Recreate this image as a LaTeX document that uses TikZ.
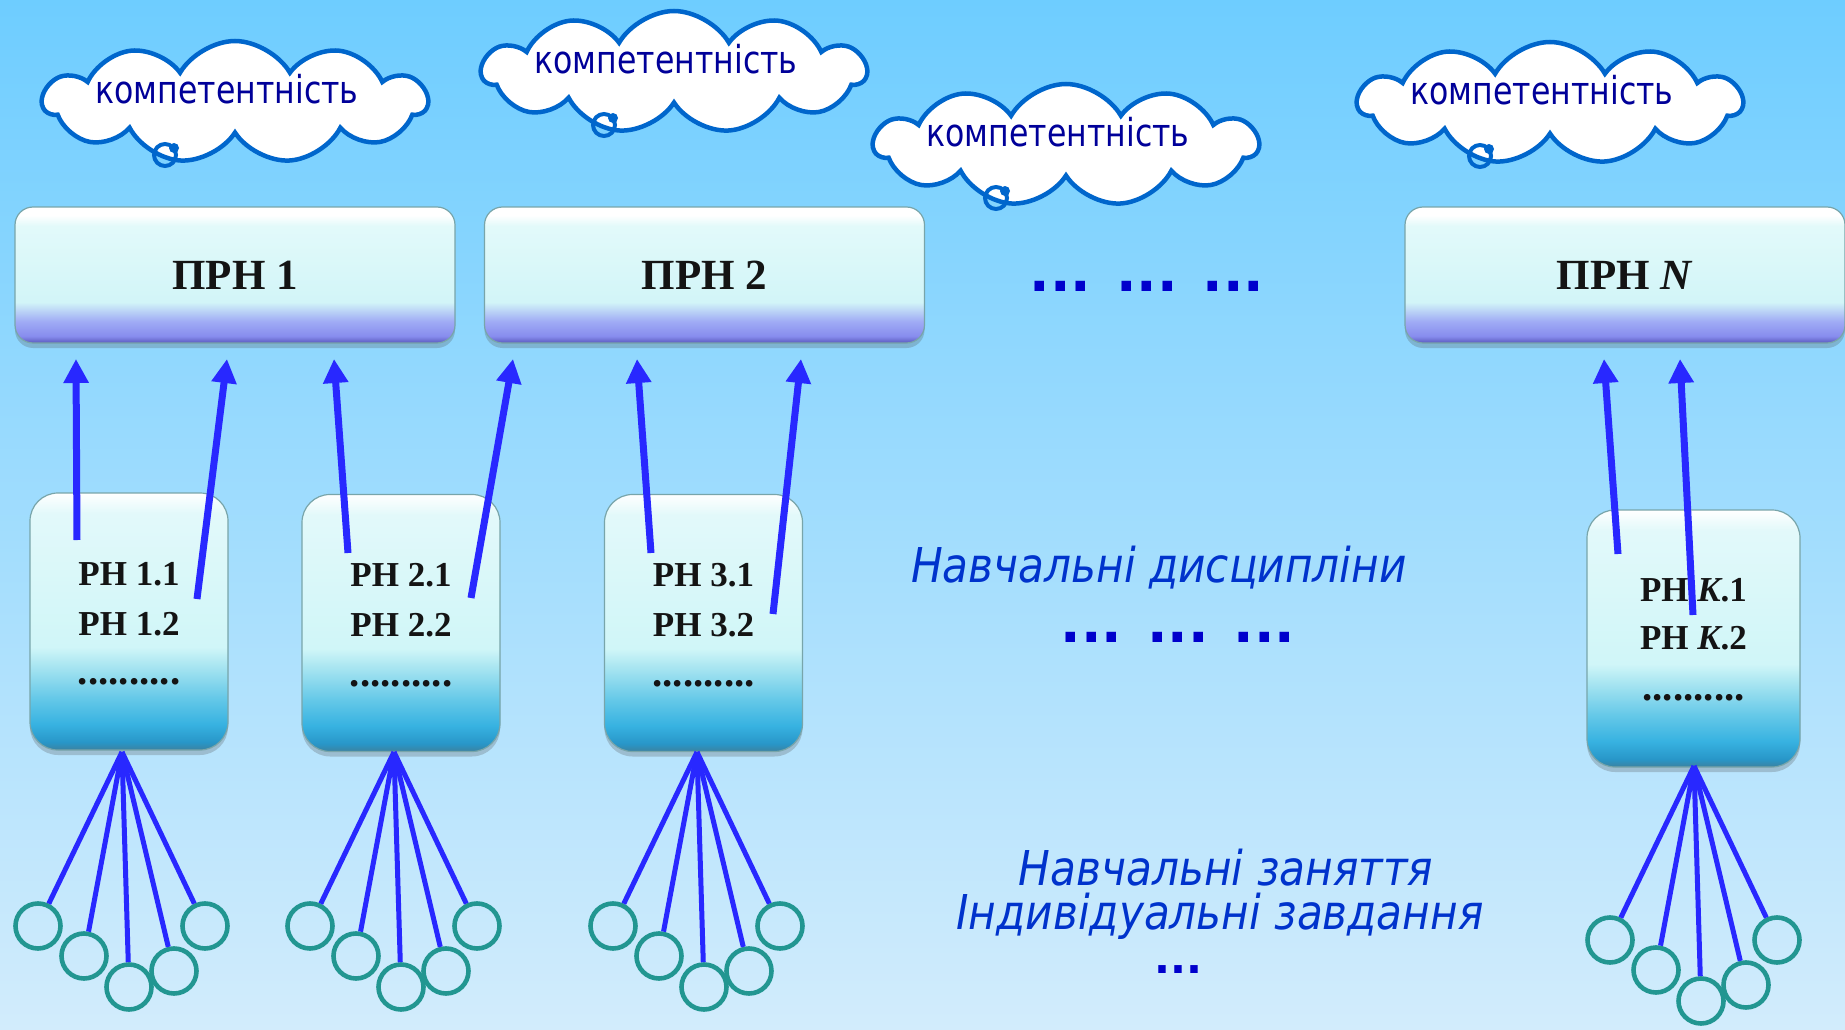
\documentclass[tikz,border=0pt]{standalone}
\usepackage{fontspec}
\setmainfont{Liberation Serif}
\newfontfamily\tahomaA[FakeStretch=0.82]{DejaVu Sans}
\newfontfamily\tahomaB[FakeStretch=0.88]{DejaVu Sans}
\newfontfamily\dotfont{DejaVu Sans}
\usetikzlibrary{shapes.symbols,arrows.meta,shadows}

\definecolor{bgtop}{RGB}{110,205,255}
\definecolor{bgbot}{RGB}{210,236,252}
\definecolor{cloudblue}{RGB}{0,102,204}
\definecolor{cloudtext}{RGB}{0,0,153}
\definecolor{linkblue}{RGB}{40,40,255}
\definecolor{tealc}{RGB}{34,150,145}
\definecolor{itblue}{RGB}{0,51,204}
\definecolor{dotblue}{RGB}{0,0,204}
\definecolor{prnD}{RGB}{90,90,190}
\definecolor{prnC}{RGB}{135,140,238}
\definecolor{prnB}{RGB}{160,172,245}
\definecolor{prnA}{RGB}{210,245,248}
\definecolor{prnA2}{RGB}{226,250,250}
\definecolor{rnE}{RGB}{60,130,160}
\definecolor{rnD}{RGB}{40,150,200}
\definecolor{rnC}{RGB}{55,178,225}
\definecolor{rnB}{RGB}{100,200,232}
\definecolor{rnA}{RGB}{175,232,242}
\definecolor{rnL}{RGB}{208,246,248}
\definecolor{rnL2}{RGB}{226,249,250}
\definecolor{boxedge}{RGB}{120,165,170}

\pgfdeclareverticalshading{prnshade}{100bp}{color(0bp)=(prnD); color(25bp)=(prnD); color(27.5bp)=(prnC); color(33bp)=(prnB); color(40bp)=(prnA); color(68bp)=(prnA2); color(72bp)=(white); color(100bp)=(white)}
\pgfdeclareverticalshading{rnshade}{100bp}{color(0bp)=(rnE); color(25bp)=(rnE); color(26.5bp)=(rnD); color(30bp)=(rnC); color(35bp)=(rnB); color(42bp)=(rnA); color(45bp)=(rnL); color(71bp)=(rnL2); color(75bp)=(white); color(100bp)=(white)}

\tikzset{
  cloudshape/.style={cloud, cloud puffs=11, cloud puff arc=120, aspect=3.1,
    minimum width=384pt, minimum height=122pt, draw=cloudblue, fill=white,
    line width=4.5pt, inner sep=0pt},
  bubble/.style={circle, draw=cloudblue, line width=4pt, minimum size=22pt, inner sep=0pt},
  bubdot/.style={circle, fill=cloudblue, minimum size=10pt, inner sep=0pt},
  cloudtext/.style={anchor=base, text=cloudtext, font=\tahomaA\fontsize{38.5}{46}\selectfont, inner sep=0pt},
  prnbox/.style={rectangle, rounded corners=18pt, minimum width=440pt, minimum height=136pt,
    shading=prnshade, draw=boxedge, line width=1.2pt, inner sep=0pt,
    drop shadow={shadow xshift=0pt, shadow yshift=-5pt, opacity=0.25, fill=black!70},
    font=\bfseries\fontsize{43}{50}\selectfont, text=black!92},
  rnbox/.style={rectangle, rounded corners=28pt, minimum width=198pt, minimum height=257pt,
    shading=rnshade, draw=boxedge, line width=1.2pt, inner sep=0pt,
    drop shadow={shadow xshift=0pt, shadow yshift=-5pt, opacity=0.25, fill=black!70}},
  rntext/.style={font=\bfseries\fontsize{35}{40}\selectfont, text=black!92, inner sep=0pt},
  rndots/.style={font=\bfseries\fontsize{41}{44}\selectfont, text=black!92, inner sep=0pt},
  bigdots/.style={font=\dotfont\bfseries\fontsize{54}{60}\selectfont, text=dotblue, inner sep=0pt},
  smalldots/.style={font=\dotfont\bfseries\fontsize{42}{46}\selectfont, text=dotblue, inner sep=0pt},
  ittext/.style={anchor=base, font=\tahomaB\itshape\fontsize{48}{56}\selectfont, text=itblue, inner sep=0pt},
  arr/.style={draw=linkblue, line width=7pt, -{Triangle[width=24pt,length=24pt]}},
  fan/.style={draw=linkblue, line width=5pt},
  circ/.style={circle, draw=tealc, line width=4.6pt, minimum size=45pt, inner sep=0pt}
}

\begin{document}
\begin{tikzpicture}[x=1pt,y=-1pt]
\useasboundingbox (0,0) rectangle (1845,1030);
\shade[top color=bgtop,bottom color=bgbot] (0,0) rectangle (1845,1030);

% clouds
\foreach \n/\cx/\cy in {1/235/102, 2/674/72, 3/1066/145, 4/1550/103}{
  \node[cloudshape] (cl\n) at (\cx,\cy) {};
  \node[bubble] (bb\n) at (\cx-70,\cy+53) {};
  \node[bubdot] (bd\n) at (\cx-61,\cy+46) {};
  \node[cloudtext] (ct\n) at (\cx-8,\cy+2) {компетентність};
}

% PRN boxes
\node[prnbox] (p1) at (235,275) {ПРН 1};
\node[prnbox] (p2) at (704.5,275) {ПРН 2};
\node[prnbox] (pn) at (1625,275) {ПРН \textit{N}};
\node[bigdots] (dtop) at (1147,286) {... ... ...};

% RN boxes
\node[rnbox] (r1) at (129,621.5) {};
\node[rnbox] (r2) at (401,623) {};
\node[rnbox] (r3) at (703.5,623) {};
\node[rnbox, minimum width=213pt] (rk) at (1693.5,638.5) {};

\node[rntext] (r1a) at (129,574) {РН 1.1};
\node[rntext] (r1b) at (129,624) {РН 1.2};
\node[rndots] (r1c) at (129,682) {..........};
\node[rntext] (r2a) at (401,575.5) {РН 2.1};
\node[rntext] (r2b) at (401,625.5) {РН 2.2};
\node[rndots] (r2c) at (401,683.5) {..........};
\node[rntext] (r3a) at (703.5,575.5) {РН 3.1};
\node[rntext] (r3b) at (703.5,625.5) {РН 3.2};
\node[rndots] (r3c) at (703.5,683.5) {..........};
\node[rntext] (rka) at (1693.5,590) {РН \textit{K}.1};
\node[rntext] (rkb) at (1693.5,638) {РН \textit{K}.2};
\node[rndots] (rkc) at (1693.5,698) {..........};

% middle texts
\node[ittext] (t1) at (1159,582) {Навчальні дисципліни};
\node[bigdots] (dmid) at (1178,637) {... ... ...};
\node[ittext] (t2) at (1226,885) {Навчальні заняття};
\node[ittext] (t3) at (1220,929) {Індивідуальні завдання};
\node[smalldots] (dbot) at (1178,970) {...};

% arrow endpoints
\coordinate (s11) at (77,540);   \coordinate (e11) at (76,359);
\coordinate (s12) at (197,599);  \coordinate (e12) at (227,359);
\coordinate (s21) at (348,553);  \coordinate (e21) at (334,359);
\coordinate (s22) at (471,598);  \coordinate (e22) at (513,359);
\coordinate (s31) at (651,553);  \coordinate (e31) at (637,359);
\coordinate (s32) at (773,614);  \coordinate (e32) at (801,359);
\coordinate (sk1) at (1618,554); \coordinate (ek1) at (1604,359);
\coordinate (sk2) at (1693,615); \coordinate (ek2) at (1680,359);
\foreach \a in {11,12,21,22,31,32,k1,k2}{
  \draw[arr] (s\a) -- (e\a);
}

% fans
\foreach \n/\ax/\ay in {1/122/752, 2/394/752, 3/697/752, k/1694/766}{
  \coordinate (a\n) at (\ax,\ay);
  \node[circ] (c\n1) at (\ax-84,\ay+174) {};
  \node[circ] (c\n2) at (\ax-38,\ay+204) {};
  \node[circ] (c\n3) at (\ax+7,\ay+235) {};
  \node[circ] (c\n4) at (\ax+52,\ay+219) {};
  \node[circ] (c\n5) at (\ax+83,\ay+174) {};
  \foreach \m in {1,...,5}{
    \draw[fan] (a\n) -- (c\n\m);
  }
}
\end{tikzpicture}
\end{document}
